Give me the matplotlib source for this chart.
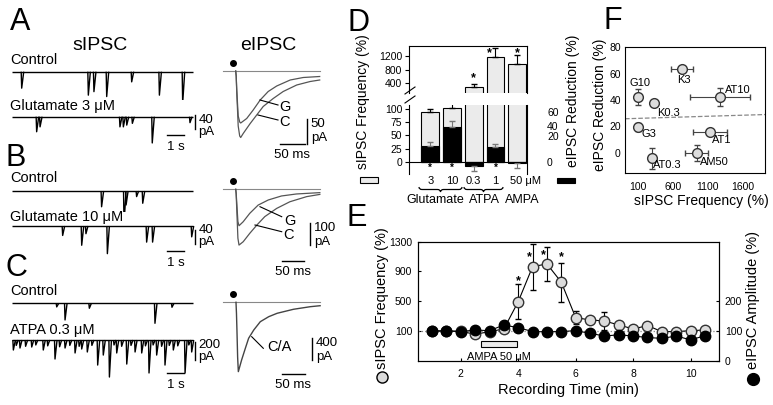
import numpy as np
import matplotlib
matplotlib.use("Agg")
import matplotlib.pyplot as plt
from matplotlib.path import Path
from matplotlib.patches import PathPatch, Rectangle
from matplotlib.collections import LineCollection

plt.rcParams['font.family'] = ['Liberation Sans', 'DejaVu Sans']
plt.rcParams['axes.linewidth'] = 0.8

# ---------------- data ----------------
# sIPSC events: time (s), amplitude (pA)
a_ctrl_t = [0.57, 4.49, 4.82, 5.57, 7.04, 8.67, 10.04]
a_ctrl_a = [47, 67, 57, 71, 29, 67, 90]
a_glu_t = [1.45, 1.65, 6.35, 6.55, 6.75, 7.08, 8.25, 10.47]
a_glu_a = [43, 29, 29, 29, 24, 19, 75, 17]
b_ctrl_t = [5.27, 6.59, 6.71, 7.33, 7.69]
b_ctrl_a = [45, 92, 40, 16, 35]
b_glu_t = [2.98, 4.10, 4.35, 5.61, 7.92, 8.27, 10.57]
b_glu_a = [27, 55, 22, 79, 46, 46, 31]
c_ctrl_t = [2.63, 3.12, 4.55, 8.41, 9.41]
c_ctrl_a = [40, 185, 55, 222, 44]
c_atpa_t = [0.08, 0.25, 0.47, 0.8, 1.16, 1.4, 1.84, 2.1, 2.53, 2.8, 3.12, 3.4, 3.71,
            3.95, 4.1, 4.43, 4.7, 5.04, 5.37, 5.73, 6.0, 6.16, 6.45, 6.75, 7.0, 7.24,
            7.63, 7.85, 8.06, 8.3, 8.51, 8.8, 9.0, 9.25, 9.49, 9.75, 10.18, 10.4, 10.57]
c_atpa_a = [111, 60, 89, 70, 78, 55, 111, 65, 211, 75, 89, 60, 144,
            70, 100, 133, 60, 278, 167, 411, 55, 144, 70, 267, 60, 133,
            144, 65, 366, 55, 167, 70, 278, 60, 111, 65, 366, 55, 133]

# eIPSC traces: time after stimulus (ms), current (pA)
ea_c_t = [0, 1, 2, 5, 8, 10, 15, 29, 42, 55, 75, 95, 122, 149, 168]
ea_c_i = [0, -10, -40, -110, -130, -133, -125, -105, -88, -71, -55, -41, -28, -21, -18]
ea_g_t = [0, 1, 2, 5, 8, 10, 22, 35, 49, 65, 82, 109, 135, 168]
ea_g_i = [0, -10, -35, -90, -102, -104, -95, -78, -58, -41, -30, -18, -13, -11]
eb_c_t = [0, 1, 3, 5, 7.5, 17, 32, 48, 66, 93, 123, 161, 191]
eb_c_i = [0, -20, -120, -220, -251, -236, -198, -161, -123, -86, -56, -33, -23]
eb_g_t = [0, 1, 3, 5, 7.5, 17, 32, 51, 74, 104, 138, 191]
eb_g_i = [0, -15, -80, -145, -164, -146, -108, -71, -48, -30, -21, -15]
ec_t = [0, 1, 2, 3.5, 5, 12, 20, 27, 38, 52, 70, 88, 123, 159, 180]
ec_i = [0, -200, -500, -1000, -1262, -1050, -837, -655, -504, -353, -262, -200, -127, -80, -62]

# panel D
d_groups = ['3', '10', '0.3', '1', '50 \u03bcM']
d_freq = [94, 102, 296, 1187, 980]
d_freq_err = [5, 8, 85, 265, 260]
d_red = [31, 66, -7, 29, -1]
d_red_err = [7, 11, 10, 6, 9]

# panel E
e_t = [1.0, 1.5, 2.0, 2.5, 3.0, 3.5, 4.0, 4.5, 5.0, 5.5, 6.0, 6.5, 7.0, 7.5, 8.0, 8.5, 9.0, 9.5, 10.0, 10.5]
e_freq = [100, 100, 95, 55, 91, 127, 494, 965, 1001, 755, 279, 248, 234, 181, 127, 172, 91, 91, 104, 113]
e_freq_err = [10, 10, 10, 15, 15, 25, 234, 310, 230, 265, 90, 40, 126, 35, 25, 30, 20, 20, 20, 20]
e_amp = [100, 100, 98, 103, 101, 120, 111, 98, 97, 98, 101, 92, 83, 87, 83, 78, 75, 83, 70, 84]
e_star_t = [4.0, 4.38, 4.88, 5.5]
e_star_y = [772, 1086, 1122, 1091]
ampa_on, ampa_off = 2.7, 3.95

# panel F
f_names = ['G10', 'K0.3', 'K3', 'AT10', 'G3', 'AT1', 'AM50', 'AT0.3']
f_freq = [100, 331, 735, 1278, 90, 1134, 941, 292]
f_freq_err = [0, 0, 160, 433, 0, 250, 168, 0]
f_red = [42.4, 37.4, 63.4, 42.4, 19.7, 15.9, 0, -4.3]
f_red_err = [6, 0, 2, 7, 3, 2, 6, 8]
f_fit_x = [-90, 1924]
f_fit_y = [25.8, 29.0]

# ---------------- figure ----------------
W, H = 773, 405
fig = plt.figure(figsize=(W / 100, H / 100), dpi=100)


def box(x0, y0, x1, y1):
    # axes from a pixel box (y measured from the top)
    return fig.add_axes([x0 / W, 1 - y1 / H, (x1 - x0) / W, (y1 - y0) / H])


ov = fig.add_axes([0, 0, 1, 1], zorder=10)
ov.set_xlim(0, W)
ov.set_ylim(H, 0)
ov.axis('off')

S_PX = 17.0


def spont(y_top, y_bot, base, pa_px, times, amps, length=10.65):
    ax = box(12, y_top, 200, y_bot)
    ax.set_xlim(0, 188 / S_PX)
    ax.set_ylim(-(y_bot - base) * pa_px, (base - y_top) * pa_px)
    ax.axis('off')
    segs = [[(0, 0), (length, 0)]]
    for t, a in zip(times, amps):
        segs.append([(t - 0.03, 0), (t, -a), (t + 0.12, 0)])
    ax.add_collection(LineCollection(segs, colors='k', linewidths=1.0))
    return ax


def scale_s(ax, xbar, y_bar, bar_pa, lab, y_lab, y_sec, pa_px, base):
    # vertical pA bar and 1 s bar, given in pixel rows
    tb = (xbar - 12) / S_PX
    ax.plot([tb, tb], [-(y_bar - base) * pa_px, -(y_bar - base) * pa_px - bar_pa],
            color='k', lw=1, clip_on=False)
    ax.text(tb + 0.2, -(y_lab - base) * pa_px, lab, fontsize=9.5, va='center', clip_on=False)
    ax.text(tb + 0.2, -(y_lab + 12 - base) * pa_px, 'pA', fontsize=9.5, va='center', clip_on=False)
    t1 = (167 - 12) / S_PX
    ax.plot([t1, t1 + 1], [-(y_sec - base) * pa_px] * 2, color='k', lw=1, clip_on=False)
    ax.text(t1 + 0.5, -(y_sec + 12 - base) * pa_px, '1 s', fontsize=9.5,
            ha='center', va='center', clip_on=False)


ax = spont(55, 100, 71.7, 2.857, a_ctrl_t, a_ctrl_a)
ax = spont(100, 160, 116.7, 2.857, a_glu_t, a_glu_a)
scale_s(ax, 195, 115, 40, '40', 120, 135, 2.857, 116.7)
ax = spont(172, 212, 191, 2.857, b_ctrl_t, b_ctrl_a)
ax = spont(212, 275, 226, 2.857, b_glu_t, b_glu_a)
scale_s(ax, 195, 230, 40, '40', 230, 251, 2.857, 226)
ax = spont(285, 328, 303.3, 11.1, c_ctrl_t, c_ctrl_a)
ax = spont(328, 395, 340, 11.1, c_atpa_t, c_atpa_a)
scale_s(ax, 195, 342, 200, '200', 345, 373, 11.1, 340)


def evoked(y_top, y_bot, t0, base, ms_px, pa_px, t_end):
    ax = box(215, y_top, 345, y_bot)
    ax.set_xlim((215 - t0) * ms_px, (345 - t0) * ms_px)
    ax.set_ylim(-(y_bot - base) * pa_px, (base - y_top) * pa_px)
    ax.axis('off')
    ax.plot([-13 * ms_px, t_end], [0, 0], color='#888888', lw=0.8)
    ax.plot([-3 * ms_px], [8 * pa_px], 'o', color='k', ms=4)
    return ax


def scale_e(ax, t0, base, ms_px, pa_px, xv, yv, bar_pa, lab, xh, yh):
    tv = (xv - t0) * ms_px
    ax.plot([tv, tv], [-(yv - base) * pa_px, -(yv - base) * pa_px - bar_pa], color='k', lw=1, clip_on=False)
    ax.text(tv + 4 * ms_px, -(yv + 5 - base) * pa_px, lab, fontsize=9.5, va='center', clip_on=False)
    ax.text(tv + 4 * ms_px, -(yv + 19 - base) * pa_px, 'pA', fontsize=9.5, va='center', clip_on=False)
    th = (xh - t0) * ms_px
    ax.plot([th, th + 50], [-(yh - base) * pa_px] * 2, color='k', lw=1, clip_on=False)
    ax.text(th + 25, -(yh + 11 - base) * pa_px, '50 ms', fontsize=9.5, ha='center', va='center', clip_on=False)


ax = evoked(50, 160, 235.7, 71, 2.0, 2.0, 168)
ax.plot(ea_c_t, ea_c_i, color='#555555', lw=0.9)
ax.plot(ea_g_t, ea_g_i, color='#555555', lw=0.9)
scale_e(ax, 235.7, 71, 2.0, 2.0, 306.7, 119, 50, '50', 280, 143.5)
ax = evoked(170, 280, 235.7, 189.3, 2.27, 4.5, 191)
ax.plot(eb_c_t, eb_c_i, color='#555555', lw=0.9)
ax.plot(eb_g_t, eb_g_i, color='#555555', lw=0.9)
scale_e(ax, 235.7, 189.3, 2.27, 4.5, 310, 223, 100, '100', 281.7, 261)
ax = evoked(285, 395, 236, 302.3, 2.14, 18.2, 180)
ax.plot(ec_t, ec_i, color='#444444', lw=1.0)
scale_e(ax, 236, 302.3, 2.14, 18.2, 311.7, 338, 400, '400', 281.7, 374)

# leader lines and trace names
for (x0, y0, x1, y1, s, tx, ty) in [(260, 100, 278, 105, 'G', 285, 106.7),
                                    (258, 115, 278, 120, 'C', 285, 121.7),
                                    (260, 206.7, 281.7, 216.7, 'G', 290, 221),
                                    (255, 225, 281.7, 231.7, 'C', 289, 235),
                                    (251.7, 336.7, 263.3, 348.3, 'C/A', 279, 346.7)]:
    ov.plot([x0, x1], [y0, y1], color='k', lw=0.8)
    ov.text(tx, ty, s, fontsize=10.5, ha='center', va='center')

for s, x, y in [('A', 20.5, 22), ('B', 16, 157.5), ('C', 16, 268), ('D', 359, 23),
                ('E', 356.7, 218), ('F', 612.5, 21)]:
    ov.text(x, y, s, fontsize=22, ha='center', va='center')
ov.text(100, 45, 'sIPSC', fontsize=14, ha='center', va='center')
ov.text(268, 45, 'eIPSC', fontsize=14, ha='center', va='center')
for s, y in [('Control', 60), ('Glutamate 3 \u03bcM', 106), ('Control', 178),
             ('Glutamate 10 \u03bcM', 217), ('Control', 291), ('ATPA 0.3 \u03bcM', 330)]:
    ov.text(10, y, s, fontsize=10.5, ha='left', va='center')

# ---------------- panel D ----------------
d_x = np.arange(len(d_freq))
axu = box(408.5, 46, 527, 93)
axl = box(408.5, 105, 527, 174)
axu.set_ylim(118, 1500)
axl.set_ylim(-22, 107)
high = [i for i in d_x if d_freq[i] > 118]
for a, idx in ((axu, high), (axl, list(d_x))):
    a.set_facecolor('none')
    a.set_xlim(-1.0, 4.45)
    a.bar([d_x[i] for i in idx], [d_freq[i] for i in idx], 0.81, color='#ebebeb',
          edgecolor='k', lw=0.8)
    a.errorbar([d_x[i] for i in idx], [d_freq[i] for i in idx],
               yerr=[np.zeros(len(idx)), [d_freq_err[i] for i in idx]], fmt='none',
               ecolor='k', elinewidth=0.8, capsize=2)
    a.tick_params(axis='y', direction='out', length=3, width=0.8, labelsize=7.5, pad=1.5)
axu.set_yticks([400, 800, 1200])
axu.set_xticks([])
axu.spines['bottom'].set_visible(False)
red = np.array(d_red)
err_lo = np.where(red < 0, d_red_err, 0)
err_hi = np.where(red >= 0, d_red_err, 0)
axl.bar(d_x, d_red, 0.81, color='k', edgecolor='k', lw=0.8)
axl.errorbar(d_x, d_red, yerr=[err_lo, err_hi], fmt='none', ecolor='#777777', elinewidth=0.8, capsize=2)
axl.axhline(0, color='k', lw=0.8)
axl.set_yticks([0, 25, 50, 75, 100])
axl.spines['top'].set_visible(False)
axl.spines['bottom'].set_visible(False)
axl.set_xticks([])
xt = axl.get_xaxis_transform()
for i, s in enumerate(d_groups):
    if i < 4:
        axl.text(d_x[i], -0.1, s, transform=xt, fontsize=8, ha='center', va='center')
    else:
        axl.text(d_x[i] - 0.35, -0.1, s, transform=xt, fontsize=8, ha='left', va='center')
axu.text(2, 560, '*', ha='center', va='center', fontsize=9, fontweight='bold')
axu.text(2.74, 1300, '*', ha='center', va='center', fontsize=9, fontweight='bold')
axu.text(4, 1300, '*', ha='center', va='center', fontsize=9, fontweight='bold')
for xi in (0, 1, 3):
    axl.text(xi, -11, '*', ha='center', va='center', fontsize=7, fontweight='bold')

# axis break marks, braces, group names, side labels
ov.plot([405, 415], [94, 87], color='k', lw=0.8)
ov.plot([405, 415], [103, 96], color='k', lw=0.8)


def brace(x0, x1, y, h):
    xm = (x0 + x1) / 2
    r = 3
    verts = [(x0, y), (x0, y + h / 2), (x0 + r, y + h / 2), (xm - r, y + h / 2),
             (xm, y + h / 2), (xm, y + h), (xm, y + h / 2), (xm + r, y + h / 2),
             (x1 - r, y + h / 2), (x1, y + h / 2), (x1, y)]
    codes = [Path.MOVETO, Path.CURVE3, Path.CURVE3, Path.LINETO, Path.CURVE3, Path.CURVE3,
             Path.CURVE3, Path.CURVE3, Path.LINETO, Path.CURVE3, Path.CURVE3]
    ov.add_patch(PathPatch(Path(verts, codes), fill=False, lw=0.9, color='k'))


brace(419, 462, 187, 5)
brace(464, 503, 187, 5)
ov.text(435.7, 200, 'Glutamate', fontsize=9, ha='center', va='center')
ov.text(484, 200, 'ATPA', fontsize=9, ha='center', va='center')
ov.text(522, 200, 'AMPA', fontsize=9, ha='center', va='center')
ov.text(362.5, 102, 'sIPSC Frequency (%)', rotation=90, fontsize=10, ha='center', va='center')
ov.add_patch(Rectangle((360, 177), 18, 6, facecolor='#ebebeb', edgecolor='k', lw=0.8))
ov.text(572.5, 101, 'eIPSC Reduction (%)', rotation=90, fontsize=10, ha='center', va='center')
ov.add_patch(Rectangle((557, 178), 18, 5, facecolor='k', edgecolor='k', lw=0.8))
for s, y in [('60', 112.5), ('40', 127.5), ('20', 137.5), ('0', 163.5)]:
    ov.text(547, y, s, fontsize=7.5, ha='left', va='center')

# ---------------- panel E ----------------
axE = box(417.7, 241.7, 719.3, 360.7)
axE.set_facecolor('none')
axE.set_xlim(0.5, 11)
axE.set_ylim(-300, 1300)
axE.axhline(100, color='#888888', ls=':', lw=0.9)
axE.errorbar(e_t, e_freq, yerr=e_freq_err, fmt='-o', color='k', mfc='#dcdcdc', mec='#333333',
             ms=7.5, lw=0.8, elinewidth=0.8, capsize=2.5)
for t, y in zip(e_star_t, e_star_y):
    axE.text(t, y, '*', ha='center', va='center', fontsize=9, fontweight='bold')
axE.add_patch(Rectangle((ampa_on, -111), ampa_off - ampa_on, 81, facecolor='#ebebeb',
                        edgecolor='k', lw=0.8))
axE.text((ampa_on + ampa_off) / 2, -246, 'AMPA 50 \u03bcM', fontsize=8, ha='center', va='center')
axE.set_xticks([2, 4, 6, 8, 10])
axE.set_yticks([100, 500, 900, 1300])
axE.tick_params(direction='in', length=2.5, width=0.8, labelsize=7.5, pad=4)
axE.tick_params(axis='x', pad=6)
axR = axE.twinx()
axR.set_ylim(0, 400)
axR.plot(e_t, e_amp, '-o', color='k', ms=7.5, lw=0.8)
axR.set_yticks([0, 100, 200])
axR.tick_params(direction='in', length=2.5, width=0.8, labelsize=7.5, pad=4)
ov.text(381.7, 298, 'sIPSC Frequency (%)', rotation=90, fontsize=10.5, ha='center', va='center')
ov.plot([381.7], [377], 'o', mfc='#dcdcdc', mec='k', ms=8)
ov.text(753, 300, 'eIPSC Amplitude (%)', rotation=90, fontsize=10.5, ha='center', va='center')
ov.plot([753], [379], 'o', color='k', ms=8.5)
ov.text(568, 390, 'Recording Time (min)', fontsize=10.5, ha='center', va='center')

# ---------------- panel F ----------------
axF = box(625, 46.7, 765, 173.3)
axF.set_facecolor('none')
axF.set_xlim(-90, 1924)
axF.set_ylim(-15.6, 80.5)
axF.plot(f_fit_x, f_fit_y, '--', color='#888888', lw=0.9)
axF.errorbar(f_freq, f_red, xerr=f_freq_err, yerr=f_red_err, fmt='o', mfc='#dcdcdc',
             mec='#333333', ms=7, ecolor='#444444', elinewidth=0.8, capsize=2)
f_off = [(-6, 10), (1.7, -7.2), (-4, -7.9), (3.6, 5.3), (2.9, -5.3), (1.2, -6), (2.4, -6.9), (1.2, -4.8)]
for name, x, y, off in zip(f_names, f_freq, f_red, f_off):
    axF.annotate(name, (x, y), xytext=off, textcoords='offset points', fontsize=8,
                 ha='left', va='center')
axF.set_xticks([100, 600, 1100, 1600])
axF.set_yticks([0, 20, 40, 60, 80])
axF.tick_params(length=0, labelsize=7.5)
axF.tick_params(axis='x', pad=6)
axF.tick_params(axis='y', pad=3)
ov.text(600, 105, 'eIPSC Reduction (%)', rotation=90, fontsize=10, ha='center', va='center')
ov.text(701, 201, 'sIPSC Frequency (%)', fontsize=10, ha='center', va='center')

fig.savefig('out.png', dpi=100)
